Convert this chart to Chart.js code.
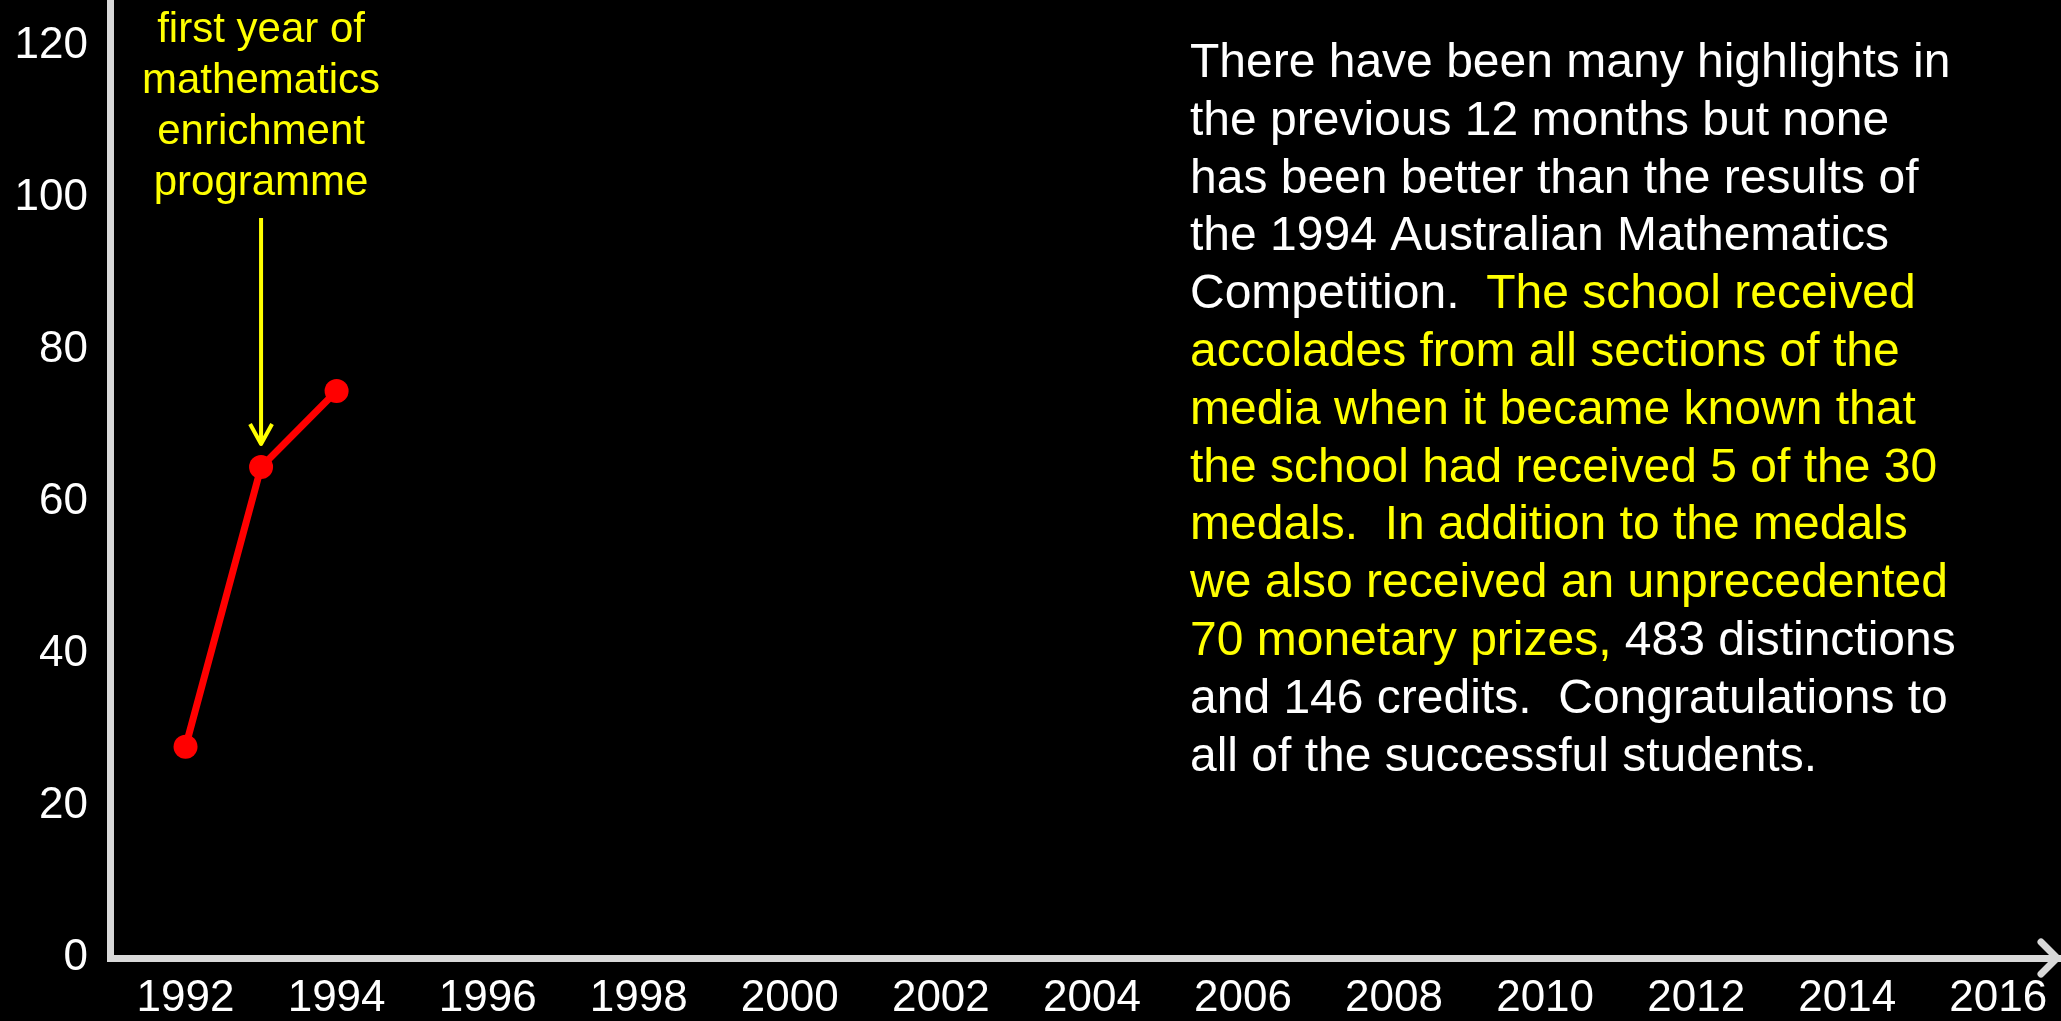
<!DOCTYPE html>
<html>
<head>
<meta charset="utf-8">
<script src="https://cdn.jsdelivr.net/npm/chart.js@4.4.1/dist/chart.umd.min.js"></script>
<style>
  html, body { margin: 0; padding: 0; background: #000; }
  canvas { display: block; }
</style>
</head>
<body>
<canvas id="chart" width="2061" height="1021"></canvas>
<script>
// data
const years = [1992, 1993, 1994];
const scores = [27.8, 64.6, 74.6];
const xTicks = [1992, 1994, 1996, 1998, 2000, 2002, 2004, 2006, 2008, 2010, 2012, 2014, 2016];
const yTicks = [0, 20, 40, 60, 80, 100, 120];

const noteYear = 1993;
const noteLines = ['first year of', 'mathematics', 'enrichment', 'programme'];

const storyLines = [
    'There have been many highlights in',
    'the previous 12 months but none',
    'has been better than the results of',
    'the 1994 Australian Mathematics',
    'Competition.  The school received',
    'accolades from all sections of the',
    'media when it became known that',
    'the school had received 5 of the 30',
    'medals.  In addition to the medals',
    'we also received an unprecedented',
    '70 monetary prizes, 483 distinctions',
    'and 146 credits.  Congratulations to',
    'all of the successful students.'
];
const highlightFrom = 'The school received';
const highlightTo = 'prizes,';

const FONT = '"Liberation Sans", Arial, sans-serif';
const AXIS = '#d9d9d9';
const YELLOW = '#ffff00';

const overlay = {
    id: 'overlay',
    afterDraw(chart) {
        const { ctx, chartArea, scales: { x, y } } = chart;
        ctx.save();

        // arrow head at the end of the x axis
        const ay = chartArea.bottom;
        const tipX = chartArea.right - 4;
        ctx.strokeStyle = AXIS;
        ctx.lineWidth = 7;
        ctx.lineCap = 'round';
        ctx.lineJoin = 'round';
        ctx.beginPath();
        ctx.moveTo(tipX - 16, ay - 16);
        ctx.lineTo(tipX, ay);
        ctx.lineTo(tipX - 16, ay + 16);
        ctx.stroke();

        // note over the second year
        const nx = x.getPixelForValue(noteYear);
        ctx.fillStyle = YELLOW;
        ctx.font = '42px ' + FONT;
        ctx.textAlign = 'center';
        ctx.textBaseline = 'alphabetic';
        noteLines.forEach((t, i) => ctx.fillText(t, nx, chartArea.top + 42 + i * 51));

        const tipY = y.getPixelForValue(scores[years.indexOf(noteYear)]) - 23;
        ctx.strokeStyle = YELLOW;
        ctx.lineWidth = 4;
        ctx.lineCap = 'butt';
        ctx.beginPath();
        ctx.moveTo(nx, chartArea.top + 218);
        ctx.lineTo(nx, tipY);
        ctx.moveTo(nx - 11, tipY - 20);
        ctx.lineTo(nx, tipY);
        ctx.lineTo(nx + 11, tipY - 20);
        ctx.stroke();

        // paragraph on the right
        const full = storyLines.join('\n');
        const hStart = full.indexOf(highlightFrom);
        const hEnd = full.indexOf(highlightTo) + highlightTo.length;
        ctx.font = '48px ' + FONT;
        ctx.textAlign = 'left';
        let offset = 0;
        storyLines.forEach((line, i) => {
            const by = chartArea.top + 77 + i * 57.8;
            let px = 1190;
            const a = Math.max(0, Math.min(line.length, hStart - offset));
            const b = Math.max(0, Math.min(line.length, hEnd - offset));
            const parts = [[line.slice(0, a), '#fff'], [line.slice(a, b), YELLOW], [line.slice(b), '#fff']];
            parts.forEach(([t, c]) => {
                if (!t) return;
                ctx.fillStyle = c;
                ctx.fillText(t, px, by);
                px += ctx.measureText(t).width;
            });
            offset += line.length + 1;
        });

        ctx.restore();
    }
};

new Chart(document.getElementById('chart'), {
    type: 'line',
    data: {
        datasets: [{
            data: years.map((yr, i) => ({ x: yr, y: scores[i] })),
            borderColor: '#ff0000',
            backgroundColor: '#ff0000',
            borderWidth: 7,
            pointRadius: 12,
            pointBorderWidth: 0,
            pointBackgroundColor: '#ff0000',
            tension: 0,
            clip: false
        }]
    },
    options: {
        responsive: false,
        animation: false,
        events: [],
        layout: { padding: 0, autoPadding: false },
        plugins: { legend: { display: false }, tooltip: { enabled: false } },
        scales: {
            x: {
                type: 'linear',
                min: 1991,
                max: 2016.83,
                grid: { display: false, drawTicks: false },
                border: { color: AXIS, width: 7 },
                ticks: {
                    color: '#fff',
                    font: { family: FONT, size: 44 },
                    padding: 14,
                    autoSkip: false,
                    maxRotation: 0,
                    callback: v => String(v)
                },
                afterBuildTicks: s => { s.ticks = xTicks.map(v => ({ value: v })) },
                afterFit: s => {
                    s.height = 63;
                    s.paddingLeft = 0;
                    s.paddingRight = 0;
                }
            },
            y: {
                min: 0,
                max: 126.05,
                grid: { display: false, drawTicks: false },
                border: { color: AXIS, width: 7 },
                ticks: {
                    color: '#fff',
                    font: { family: FONT, size: 44 },
                    padding: 22,
                    callback: v => String(v)
                },
                afterBuildTicks: s => { s.ticks = yTicks.map(v => ({ value: v })) },
                afterFit: s => {
                    s.width = 110;
                    s.paddingTop = 0;
                    s.paddingBottom = 0;
                }
            }
        }
    },
    plugins: [overlay]
});
</script>
</body>
</html>
